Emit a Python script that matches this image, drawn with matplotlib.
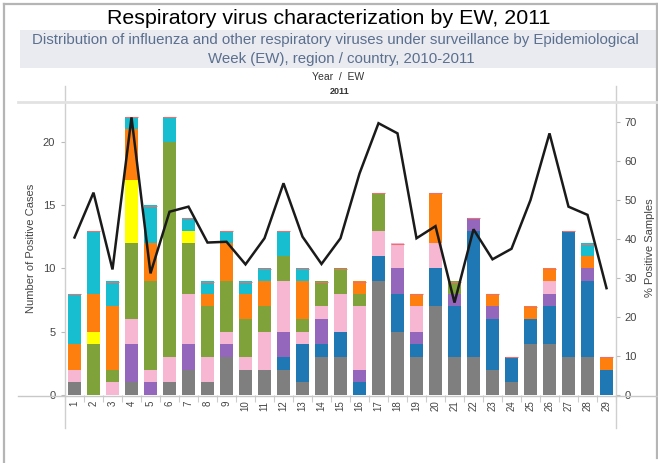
import matplotlib
matplotlib.use("Agg")
import matplotlib.pyplot as plt
import numpy as np
from matplotlib.lines import Line2D

plt.rcParams['font.family'] = ['Liberation Sans', 'DejaVu Sans']

# ---------------- data ----------------
weeks = list(range(1, 30))
week_labels = [str(w) for w in weeks]

grey   = [1, 0, 0, 1, 0, 1, 2, 1, 3, 2, 2, 2, 1, 3, 3, 0, 9, 5, 3, 7, 3, 3, 2, 1, 4, 4, 3, 3, 0]
blue   = [0, 0, 0, 0, 0, 0, 0, 0, 0, 0, 0, 1, 3, 1, 2, 1, 2, 3, 1, 3, 4, 10, 4, 2, 2, 3, 10, 6, 2]
purple = [0, 0, 0, 3, 1, 0, 2, 0, 1, 0, 0, 2, 0, 2, 0, 1, 0, 2, 1, 0, 1, 1, 1, 0, 0, 1, 0, 1, 0]
pink   = [1, 0, 1, 2, 1, 2, 4, 2, 1, 1, 3, 4, 1, 1, 3, 5, 2, 2, 2, 2, 0, 0, 0, 0, 0, 1, 0, 0, 0]
green  = [0, 4, 1, 6, 7, 17, 4, 4, 4, 3, 2, 2, 1, 2, 2, 1, 3, 0, 0, 0, 1, 0, 0, 0, 0, 0, 0, 0, 0]
yellow = [0, 1, 0, 5, 0, 0, 1, 0, 0, 0, 0, 0, 0, 0, 0, 0, 0, 0, 0, 0, 0, 0, 0, 0, 0, 0, 0, 0, 0]
orange = [2, 3, 5, 4, 3, 0, 0, 1, 3, 2, 2, 0, 3, 0, 0, 1, 0, 0, 1, 4, 0, 0, 1, 0, 1, 1, 0, 1, 1]
cyan   = [4, 5, 2, 1, 3, 2, 1, 1, 1, 1, 1, 2, 1, 0, 0, 0, 0, 0, 0, 0, 0, 0, 0, 0, 0, 0, 0, 1, 0]

pct_positive = [40.4, 51.9, 32.2, 71.2, 31.2, 47.0, 48.3, 39.1, 39.3, 33.5, 40.2, 54.3, 40.6,
                33.6, 40.2, 56.8, 69.7, 67.1, 40.2, 43.3, 23.7, 42.5, 34.8, 37.5, 50.0, 67.1,
                48.3, 46.2, 27.4]

series = [grey, blue, purple, pink, green, yellow, orange, cyan]
colors = ['#7f7f7f', '#1f77b4', '#9467bd', '#f7b6d2', '#7fa33a', '#ffff00', '#ff7f0e', '#17becf']

# ---------------- figure ----------------
W, H = 658, 463
fig = plt.figure(figsize=(W / 100, H / 100), dpi=100)

def fx(x):
    return x / W

def fy(y):
    return 1 - y / H

# outer frame
fig.add_artist(Line2D([fx(4), fx(4)], [fy(4), fy(463)], color='#b5b5b5', lw=1.6))
fig.add_artist(Line2D([fx(4), fx(658)], [fy(4), fy(4)], color='#b5b5b5', lw=1.6))
fig.add_artist(Line2D([fx(656.5), fx(656.5)], [fy(4), fy(458)], color='#b5b5b5', lw=1.6))

# title
fig.text(fx(329), fy(18), 'Respiratory virus characterization by EW, 2011',
         ha='center', va='center', fontsize=15.4, color='black')

# subtitle band
band = fig.add_axes([fx(20), fy(68), fx(638), (68 - 30) / H])
band.set_xlim(0, 1)
band.set_ylim(0, 1)
band.set_facecolor('#e9ebf0')
for s in band.spines.values():
    s.set_visible(False)
band.set_xticks([])
band.set_yticks([])
band.text(0.019, 0.74, 'Distribution of influenza and other respiratory viruses under surveillance by Epidemiological',
          ha='left', va='center', fontsize=10.8, color='#5b6f8e', clip_on=True)
band.text(0.503, 0.25, 'Week (EW), region / country, 2010-2011',
          ha='center', va='center', fontsize=10.8, color='#5b6f8e')

fig.text(fx(338), fy(77), 'Year  /  EW', ha='center', va='center', fontsize=7.5, color='#333333')
fig.text(fx(340), fy(92), '2011', ha='center', va='center', fontsize=6.5, color='#333333',
         fontweight='bold')

# structural lines
for xv in (65, 616):
    fig.add_artist(Line2D([fx(xv), fx(xv)], [fy(86), fy(428)], color='#cfcfcf', lw=1.0))
fig.add_artist(Line2D([fx(18), fx(658)], [fy(101.5), fy(101.5)], color='#e2e2e2', lw=2.0))
fig.add_artist(Line2D([fx(18), fx(658)], [fy(395.5), fy(395.5)], color='#c8c8c8', lw=1.0))

# main axes
ax = fig.add_axes([fx(65), fy(395), fx(616 - 65), (395 - 101) / H])
ax.set_facecolor('none')
x = np.array(weeks)
bottom = np.zeros(len(weeks))
for vals, c in zip(series, colors):
    v = np.array(vals, dtype=float)
    ax.bar(x, v, bottom=bottom, width=0.73, color=c, edgecolor='none', zorder=2)
    bottom += v
# thin red cap on each bar
ax.hlines(bottom - 0.03, x - 0.365, x + 0.365, color='#e87070', lw=0.8, zorder=3)

ax.set_xlim(0.56, 29.46)
ax.set_ylim(0, 23.24)
ax.set_yticks([0, 5, 10, 15, 20])
ax.set_xticks(x)
ax.set_xticklabels(week_labels, rotation=90, fontsize=7, color='#444444')
ax.set_xticks(np.arange(0.5, 30, 1), minor=True)
ax.tick_params(axis='x', which='major', length=0, pad=4)
ax.tick_params(axis='x', which='minor', length=5, color='#cccccc', width=0.8)
ax.tick_params(axis='y', length=3, color='#bbbbbb', labelsize=8, labelcolor='#444444', pad=4)
for s in ax.spines.values():
    s.set_visible(False)
ax.set_ylabel('Number of Positive Cases', fontsize=8, color='#444444', labelpad=5)

ax2 = ax.twinx()
ax2.plot(x, pct_positive, color='#1a1a1a', lw=1.8, zorder=4, solid_joinstyle='miter')
ax2.set_ylim(0, 75.4)
ax2.set_yticks([0, 10, 20, 30, 40, 50, 60, 70])
ax2.tick_params(axis='y', length=3, color='#bbbbbb', labelsize=8, labelcolor='#444444', pad=3)
for s in ax2.spines.values():
    s.set_visible(False)
ax2.set_ylabel('% Positive Samples', fontsize=8, color='#444444', labelpad=6)

fig.savefig('out.png', dpi=100)
